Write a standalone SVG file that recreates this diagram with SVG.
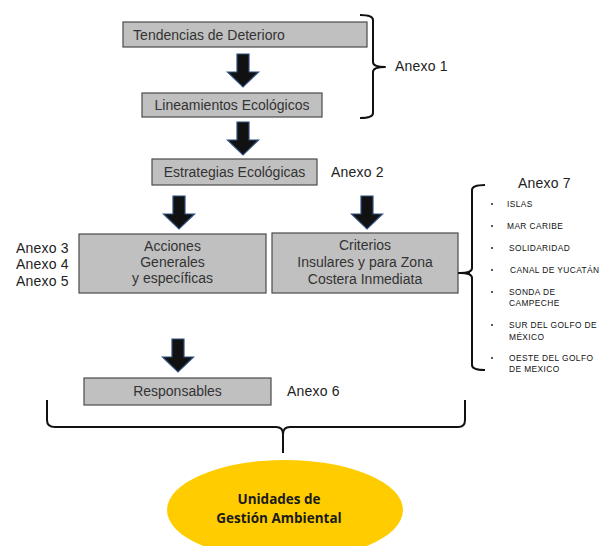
<svg xmlns="http://www.w3.org/2000/svg" width="607" height="546" viewBox="0 0 607 546">
<style>
.box{fill:#c0c0c0;stroke:#4a4a4a;stroke-width:1.2}
.bt{font-family:"Liberation Sans",Arial,sans-serif;font-size:14px;fill:#333;text-anchor:middle}
.ax{font-family:"Liberation Sans",Arial,sans-serif;font-size:14px;fill:#222;letter-spacing:0.2px}
.it{font-family:"Liberation Sans",Arial,sans-serif;font-size:8.4px;fill:#111;letter-spacing:0.4px}
.br{fill:none;stroke:#111;stroke-width:2;stroke-linejoin:round}
.ar{fill:#111;stroke:#2f4f80;stroke-width:1.2}
.bul{fill:#333}
</style>
<defs>
<path id="arrow" class="ar" d="M-6,0 H6 V18 H15.5 L0,33 L-15.5,18 H-6 Z"/>
</defs>
<rect width="607" height="546" fill="#fff"/>
<g id="connectors">
<use href="#arrow" x="243" y="54"/>
<use href="#arrow" x="243" y="122"/>
<use href="#arrow" x="179" y="196"/>
<use href="#arrow" x="367" y="196"/>
<use href="#arrow" x="178" y="339"/>
<path class="br" d="M360,15 Q373,15 373,20 V62 Q373,67 385,67 Q373,67 373,72 V113 Q373,118 360,118"/>
<path class="br" d="M485,185 Q472,185 472,190 V268 Q472,273 460,273 Q472,273 472,278 V365 Q472,370 485,370"/>
<path class="br" d="M47,400 V420 Q47,427 55,427 H276 Q283,427 283,434 V453 M283,434 Q283,427 290,427 H458 Q465,427 465,420 V400"/>
</g>
<g id="tendencias">
<rect class="box" x="123" y="22" width="244" height="25"/>
<text class="bt" x="209" y="39.5">Tendencias de Deterioro</text>
</g>
<g id="lineamientos">
<rect class="box" x="142" y="93" width="180" height="24"/>
<text class="bt" x="232" y="110">Lineamientos Ecológicos</text>
</g>
<g id="anexo1"><text class="ax" x="395" y="71">Anexo 1</text></g>
<g id="estrategias">
<rect class="box" x="152" y="159" width="165" height="26"/>
<text class="bt" x="234.5" y="177">Estrategias Ecológicas</text>
</g>
<g id="anexo2"><text class="ax" x="331" y="177">Anexo 2</text></g>
<g id="acciones">
<rect class="box" x="79" y="234" width="187" height="59"/>
<text class="bt" x="172.5" y="251">Acciones</text>
<text class="bt" x="172.5" y="267">Generales</text>
<text class="bt" x="172.5" y="283">y específicas</text>
</g>
<g id="anexo345">
<text class="ax" x="16" y="253">Anexo 3</text>
<text class="ax" x="16" y="269">Anexo 4</text>
<text class="ax" x="16" y="286">Anexo 5</text>
</g>
<g id="criterios">
<rect class="box" x="272" y="233" width="186" height="60"/>
<line x1="458" y1="273" x2="470" y2="273" stroke="#111" stroke-width="2"/>
<text class="bt" x="365" y="250">Criterios</text>
<text class="bt" x="365" y="267">Insulares y para Zona</text>
<text class="bt" x="365" y="284">Costera Inmediata</text>
</g>
<g id="anexo7">
<text class="ax" x="518" y="188">Anexo 7</text>
<circle class="bul" cx="492" cy="204" r="1.1"/><text class="it" x="507" y="206.5">ISLAS</text>
<circle class="bul" cx="492" cy="226" r="1.1"/><text class="it" x="507" y="228.5">MAR CARIBE</text>
<circle class="bul" cx="492" cy="248" r="1.1"/><text class="it" x="509" y="250.5">SOLIDARIDAD</text>
<circle class="bul" cx="492" cy="270" r="1.1"/><text class="it" x="510" y="272.5">CANAL DE YUCATÁN</text>
<circle class="bul" cx="492" cy="292" r="1.1"/><text class="it" x="509" y="294.5">SONDA DE</text>
<text class="it" x="509" y="305.5">CAMPECHE</text>
<circle class="bul" cx="492" cy="325" r="1.1"/><text class="it" x="509" y="327.5">SUR DEL GOLFO DE</text>
<text class="it" x="509" y="339.5">MÉXICO</text>
<circle class="bul" cx="492" cy="358" r="1.1"/><text class="it" x="509" y="360.5">OESTE DEL GOLFO</text>
<text class="it" x="509" y="372">DE MEXICO</text>
</g>
<g id="responsables">
<rect class="box" x="84" y="378" width="187" height="27"/>
<text class="bt" x="177.5" y="396">Responsables</text>
</g>
<g id="anexo6"><text class="ax" x="287" y="396">Anexo 6</text></g>
<g id="unidades">
<ellipse cx="285" cy="510" rx="118" ry="50" fill="#ffcc00"/>
<text x="279" y="504" font-family="'Open Sans','Liberation Sans',sans-serif" font-size="13.5" font-weight="bold" fill="#1a1a1a" text-anchor="middle">Unidades de</text>
<text x="279" y="523" font-family="'Open Sans','Liberation Sans',sans-serif" font-size="13.5" font-weight="bold" fill="#1a1a1a" text-anchor="middle">Gestión Ambiental</text>
</g>
</svg>
